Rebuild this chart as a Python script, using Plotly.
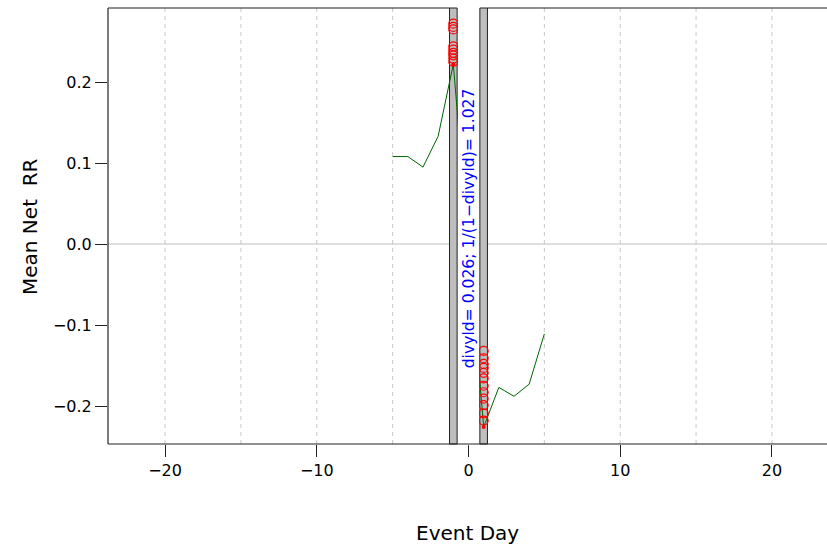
import plotly.graph_objects as go

# ---- data ----
event_days = [-5, -4, -3, -2, -1, 0, 1, 2, 3, 4, 5]
mean_net_rr = [0.108, 0.108, 0.095, 0.133, 0.222, 0.0, -0.226, -0.177, -0.188, -0.173, -0.111]

pre_day = -1
pre_obs = [0.272, 0.268, 0.265, 0.244, 0.240, 0.236, 0.233, 0.229, 0.225]
post_day = 1
post_obs = [-0.132, -0.141, -0.148, -0.153, -0.159, -0.166, -0.175, -0.183,
            -0.191, -0.199, -0.209, -0.218]

divyld = 0.026
x_tick_vals = [-20, -10, 0, 10, 20]
y_tick_vals = [-0.2, -0.1, 0.0, 0.1, 0.2]
y_tick_text = ["\u22120.2", "\u22120.1", "0.0", "0.1", "0.2"]
grid_days = [-20, -15, -10, -5, 5, 10, 15, 20]

# event window bands
band_left = (-1.25, -0.75)
band_right = (0.75, 1.25)

FONT = "DejaVu Sans"
X_RANGE = [-23.76, 23.63]
Y_RANGE = [-0.2469, 0.2914]

fig = go.Figure()

fig.add_trace(go.Scatter(
    x=event_days, y=mean_net_rr, mode="lines",
    line=dict(color="#006400", width=1), showlegend=False, hoverinfo="skip"))

fig.add_trace(go.Scatter(
    x=[pre_day] * len(pre_obs) + [post_day] * len(post_obs),
    y=pre_obs + post_obs, mode="markers",
    marker=dict(symbol="circle-open", size=9, color="#FF0000", line=dict(width=1.2)),
    showlegend=False, hoverinfo="skip"))

# small red dots at the line values on day -1 and +1
sel = [i for i, d in enumerate(event_days) if d in (pre_day, post_day)]
fig.add_trace(go.Scatter(
    x=[event_days[i] for i in sel], y=[mean_net_rr[i] for i in sel], mode="markers",
    marker=dict(symbol="circle", size=4, color="#FF0000"),
    showlegend=False, hoverinfo="skip"))

shapes = []
# dashed vertical grid lines
for g in grid_days:
    shapes.append(dict(type="line", xref="x", yref="paper", x0=g, x1=g, y0=0, y1=1,
                       line=dict(color="#C8C8C8", width=1, dash="4px,4px"), layer="below"))
# zero line
shapes.append(dict(type="line", xref="paper", yref="y", x0=0, x1=1, y0=0, y1=0,
                   line=dict(color="#BEBEBE", width=1), layer="below"))
# white cover of the event window
shapes.append(dict(type="rect", xref="x", yref="paper", x0=-0.69, x1=0.69,
                   y0=-0.003, y1=1.01, fillcolor="white", line=dict(width=0), layer="above"))
# gray bands
for b in (band_left, band_right):
    shapes.append(dict(type="rect", xref="x", yref="paper", x0=b[0], x1=b[1], y0=0, y1=1,
                       fillcolor="#BEBEBE", line=dict(color="#222222", width=1), layer="between"))
# top border (broken at the event window)
shapes.append(dict(type="line", xref="x", yref="paper", x0=X_RANGE[0], x1=band_left[0],
                   y0=1, y1=1, line=dict(color="#222222", width=1.2), layer="above"))
shapes.append(dict(type="line", xref="x", yref="paper", x0=band_right[1], x1=X_RANGE[1] + 1,
                   y0=1, y1=1, line=dict(color="#222222", width=1.2), layer="above"))
# bottom border
shapes.append(dict(type="line", xref="paper", yref="paper", x0=0, x1=1.01, y0=0, y1=0,
                   line=dict(color="#222222", width=1.2), layer="above"))
# left border
shapes.append(dict(type="line", xref="paper", yref="paper", x0=0, x1=0, y0=0, y1=1,
                   line=dict(color="#222222", width=1.2), layer="above"))

annotations = [
    dict(x=0, y=0.02, xref="x", yref="y", textangle=-90, showarrow=False,
         text=f"divyld= {divyld:.3f}; 1/(1\u2212divyld)= {1/(1-divyld):.3f}",
         font=dict(family=FONT, size=15.6, color="#0000FF"),
         xanchor="center", yanchor="middle"),
    dict(x=0.5, y=-0.204, xref="paper", yref="paper", showarrow=False,
         text="Event Day", font=dict(family=FONT, size=20, color="black"),
         xanchor="center", yanchor="middle"),
    dict(x=-0.1085, y=0.5, xref="paper", yref="paper", showarrow=False, textangle=-90,
         text="Mean Net\u00a0 RR", font=dict(family=FONT, size=20, color="black"),
         xanchor="center", yanchor="middle"),
]

fig.update_layout(
    width=827, height=544,
    margin=dict(l=108, r=0, t=8, b=100),
    paper_bgcolor="white", plot_bgcolor="white",
    shapes=shapes, annotations=annotations,
    xaxis=dict(range=X_RANGE, showgrid=False, zeroline=False, showline=False,
               ticks="outside", ticklen=12, tickwidth=1, tickcolor="#222222",
               tickvals=x_tick_vals, tickfont=dict(family=FONT, size=16, color="black")),
    yaxis=dict(range=Y_RANGE, showgrid=False, zeroline=False, showline=False,
               ticks="outside", ticklen=12, tickwidth=1, tickcolor="#222222",
               tickvals=y_tick_vals, ticktext=y_tick_text,
               tickfont=dict(family=FONT, size=16, color="black")),
)

fig.write_html("out.html")
